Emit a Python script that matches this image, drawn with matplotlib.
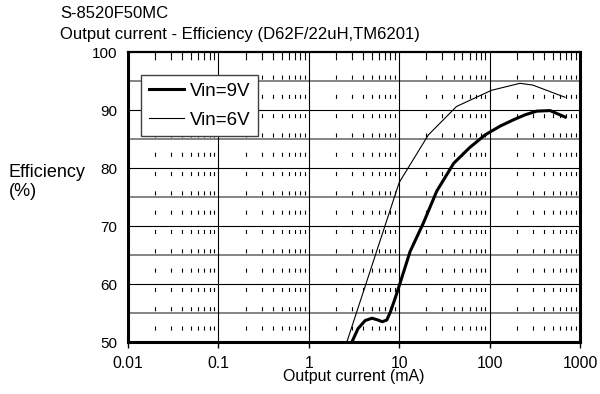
import numpy as np
import matplotlib.pyplot as plt

plt.rcParams['font.family'] = ['Liberation Sans', 'DejaVu Sans']
plt.rcParams['lines.scale_dashes'] = False

# output current [mA] - efficiency [%]
i_9v = [2.7, 3.0, 3.5, 4.2, 5.0, 5.8, 6.5, 7.3, 8.0, 9.0, 10.2, 13.2, 18.5,
        26, 40, 60, 89, 130, 183, 250, 332, 466, 682]
eff_9v = [47, 50, 52.3, 53.7, 54.1, 53.8, 53.5, 53.8, 55.2, 57.5, 60.1, 65.6,
          70.5, 76.0, 80.8, 83.5, 85.7, 87.2, 88.3, 89.2, 89.8, 89.9, 88.8]

i_6v = [2.0, 10.0, 21, 43, 105, 217, 300, 682]
eff_6v = [44.3, 77.5, 85.7, 90.6, 93.4, 94.6, 94.3, 92.2]

xticks = [0.01, 0.1, 1, 10, 100, 1000]
xticklabels = ["0.01", "0.1", "1", "10", "100", "1000"]
yticks = [50, 60, 70, 80, 90, 100]

fig = plt.figure(figsize=(6, 3.94), dpi=100)
ax = fig.add_axes([128/600, 1-342/394, 452/600, 290/394])

ax.set_xscale("log")
ax.set_xlim(0.01, 1000)
ax.set_ylim(50, 100)

#grid: decades solid, half steps grey
for y in range(55, 100, 10):
    ax.axhline(y, color="#707070", lw=1.2, zorder=1)
for y in range(60, 100, 10):
    ax.axhline(y, color="black", lw=0.8, zorder=1)
for x in xticks[1:-1]:
    ax.axvline(x, color="black", lw=0.8, zorder=1)
# minor grid as short dashes
minors = [m * 10.0**k for k in range(-2, 3) for m in range(2, 10)]
for x in minors:
    ax.axvline(x, color="black", lw=0.8, zorder=1,
               linestyle=(5.3, (2.9, 11.0)))

ax.plot(i_9v, eff_9v, color="black", lw=2.2, label="Vin=9V", zorder=3)
ax.plot(i_6v, eff_6v, color="black", lw=0.8, label="Vin=6V", zorder=3)

ax.set_xticks(xticks)
ax.set_xticklabels(xticklabels)
ax.set_xticks(minors, minor=True)
ax.set_yticks(yticks)
ax.tick_params(axis="x", which="major", direction="out", length=4,
               width=1, pad=6, labelsize=11.3, top=False)
ax.tick_params(axis="x", which="minor", bottom=False, top=True,
               direction="in", length=3, width=0.8, labelbottom=False)
ax.tick_params(axis="y", length=0, pad=8, labelsize=11)

for s in ["left", "right", "bottom"]:
    ax.spines[s].set_linewidth(2.2)
ax.spines["top"].set_linewidth(1.6)

ax.set_xlabel("Output current (mA)", fontsize=11.5, labelpad=-1)

fig.text(9/600, 1-182/394, "Efficiency\n(%)", fontsize=13, ha="left",
         va="center", linespacing=1.1)

fig.text(60/600, 1-13/394, "S-8520F50MC", fontsize=12, va="center")
fig.text(60/600, 1-34/394, "Output current - Efficiency (D62F/22uH,TM6201)",
         fontsize=12, va="center")

leg = ax.legend(loc="upper left", bbox_to_anchor=(0.029, 0.921),
                fontsize=13.5, fancybox=False, framealpha=1,
                edgecolor="#404040", handlelength=1.87, handletextpad=0.32,
                labelspacing=0.65, borderpad=0.4, borderaxespad=0)
leg.get_frame().set_linewidth(1.0)
leg.set_zorder(5)

plt.savefig("out.png", dpi=100)
